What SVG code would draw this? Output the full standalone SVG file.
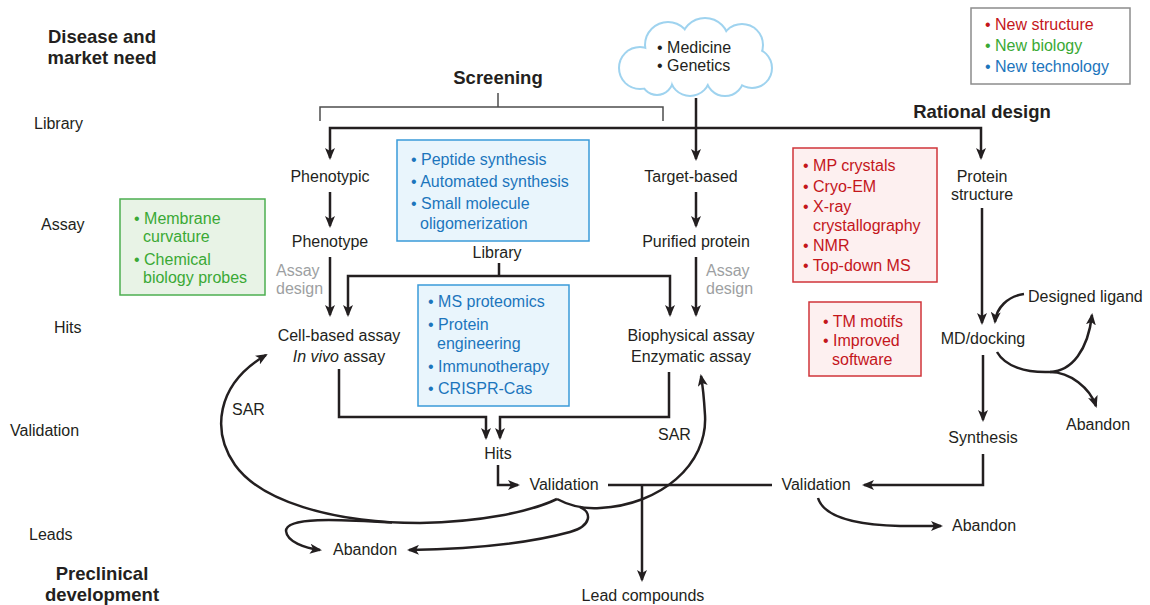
<svg xmlns="http://www.w3.org/2000/svg" width="1150" height="605" viewBox="0 0 1150 605">
<defs>
<marker id="ah" viewBox="0 0 12 10" refX="10" refY="5" markerWidth="12" markerHeight="10" markerUnits="userSpaceOnUse" orient="auto">
<path d="M0,0 L12,5 L0,10 L3,5 Z" fill="#231f20"/>
</marker>
<style>
text { font-family: "Liberation Sans", Arial, sans-serif; font-size: 16px; fill: #231f20; }
.b { font-weight: bold; font-size: 18.5px; }
.c { text-anchor: middle; }
.red { fill: #c4161c; }
.grn { fill: #3aa935; }
.blu { fill: #1c75bc; }
.gry { fill: #9d9fa2; }
.ln { fill: none; stroke: #231f20; stroke-width: 2.5; }
.ar { marker-end: url(#ah); }
.thin { fill: none; stroke: #4d4d4d; stroke-width: 1.5; }
.bxr { fill: #fdf0f0; stroke: #d0343a; stroke-width: 1.5; }
.bxb { fill: #e9f5fc; stroke: #3a9ad9; stroke-width: 1.5; }
.bxg { fill: #e8f3e6; stroke: #4caf50; stroke-width: 1.5; }
.bxk { fill: #ffffff; stroke: #8c8c8c; stroke-width: 1.5; }
.cl { fill: #ffffff; stroke: #9fd3ef; stroke-width: 4; }
.cf { fill: #ffffff; stroke: none; }
</style>
<g id="cloudShapes">
<circle cx="640" cy="68" r="20"/>
<circle cx="668" cy="45" r="22"/>
<circle cx="705" cy="42" r="23"/>
<circle cx="742" cy="45" r="20"/>
<circle cx="752" cy="68" r="19"/>
<circle cx="725" cy="77" r="18"/>
<circle cx="690" cy="76" r="19"/>
<circle cx="657" cy="79" r="15"/>
<ellipse cx="695" cy="60" rx="50" ry="24"/>
</g>
</defs>

<g id="stage-labels">
<text class="b c" x="102" y="43">Disease and</text>
<text class="b c" x="102" y="64">market need</text>
<text x="34" y="129">Library</text>
<text x="41" y="230">Assay</text>
<text x="54" y="333">Hits</text>
<text x="10" y="436">Validation</text>
<text x="29" y="540">Leads</text>
<text class="b c" x="102" y="580">Preclinical</text>
<text class="b c" x="102" y="601">development</text>
</g>

<g id="legend">
<rect class="bxk" x="971" y="8" width="159" height="76"/>
<text class="red" x="985" y="30">• New structure</text>
<text class="grn" x="985" y="51">• New biology</text>
<text class="blu" x="985" y="72">• New technology</text>
</g>

<g id="cloud">
<use href="#cloudShapes" class="cl"/>
<use href="#cloudShapes" class="cf"/>
<text x="657" y="53">• Medicine</text>
<text x="657" y="71">• Genetics</text>
</g>

<g id="screening"><text class="b c" x="498" y="84">Screening</text></g>
<g id="rational-design"><text class="b c" x="982" y="118">Rational design</text></g>

<g id="connectors">
<path class="thin" d="M320,121 V107 H663 V121"/>
<path class="thin" d="M498,93 V107"/>
<path class="ln ar" d="M500,128 H330 V158"/>
<path class="ln ar" d="M500,128 H981 V158"/>
<path class="ln ar" d="M696,98 V159"/>
<path class="ln ar" d="M330,192 V226"/>
<path class="ln ar" d="M330,257 V315"/>
<path class="ln" d="M499,263 V276"/>
<path class="ln ar" d="M499,276 H348 V315"/>
<path class="ln ar" d="M499,276 H670 V315"/>
<path class="ln ar" d="M696,192 V226"/>
<path class="ln ar" d="M696,257 V315"/>
<path class="ln ar" d="M339,369 V417 H486 V438"/>
<path class="ln ar" d="M669,372 V417 H500 V438"/>
<path class="ln ar" d="M498,465 V485 H518"/>
<path class="ln" d="M608,485 H772"/>
<path class="ln ar" d="M642,485 V580"/>
<path class="ln ar" d="M982,208 V323"/>
<path class="ln ar" d="M1024,294 C1008,296 996,308 995,322"/>
<path class="ln" d="M997,352 C1005,366 1025,373 1050,372"/>
<path class="ln ar" d="M1050,372 C1072,371 1088,350 1092,315"/>
<path class="ln ar" d="M1050,372 C1070,372 1090,388 1096,406"/>
<path class="ln ar" d="M983,355 V420"/>
<path class="ln ar" d="M983,454 V485 H864"/>
<path class="ln ar" d="M818,498 C824,518 860,525 900,526 L941,526"/>
<path class="ln ar" d="M557,499 C530,512 480,522 420,523 C330,523 260,500 235,465 C212,432 215,385 266,355"/>
<path class="ln ar" d="M557,499 C570,506 585,509 600,508 C660,505 708,465 705,415 C704,398 703,387 701,376"/>
<path class="ln ar" d="M580,507 C592,512 592,526 570,532 C530,543 470,549 409,550"/>
<path class="ln ar" d="M392,522.5 C335,519 286,517 286,531 C287,542 305,548 320,550"/>
</g>

<g id="phenotypic"><text class="c" x="330" y="182">Phenotypic</text></g>
<g id="phenotype"><text class="c" x="330" y="247">Phenotype</text></g>
<g id="assay-design-left">
<text class="gry" x="276" y="276">Assay</text>
<text class="gry" x="276" y="294">design</text>
</g>
<g id="target-based"><text class="c" x="691" y="182">Target-based</text></g>
<g id="purified-protein"><text class="c" x="696" y="247">Purified protein</text></g>
<g id="assay-design-right">
<text class="gry" x="706" y="276">Assay</text>
<text class="gry" x="706" y="294">design</text>
</g>
<g id="library"><text class="c" x="497" y="258">Library</text></g>

<g id="tech-box-1">
<rect class="bxb" x="397" y="140" width="192" height="101"/>
<text class="blu" x="411" y="165">• Peptide synthesis</text>
<text class="blu" x="411" y="187">• Automated synthesis</text>
<text class="blu" x="411" y="209">• Small molecule</text>
<text class="blu" x="420" y="229">oligomerization</text>
</g>

<g id="tech-box-2">
<rect class="bxb" x="418" y="285" width="151" height="121"/>
<text class="blu" x="428" y="307">• MS proteomics</text>
<text class="blu" x="428" y="330">• Protein</text>
<text class="blu" x="437" y="349">engineering</text>
<text class="blu" x="428" y="372">• Immunotherapy</text>
<text class="blu" x="428" y="394">• CRISPR-Cas</text>
</g>

<g id="biology-box">
<rect class="bxg" x="120" y="199" width="145" height="96"/>
<text class="grn" x="134" y="224">• Membrane</text>
<text class="grn" x="143" y="242">curvature</text>
<text class="grn" x="134" y="265">• Chemical</text>
<text class="grn" x="143" y="283">biology probes</text>
</g>

<g id="structure-box-1">
<rect class="bxr" x="793" y="148" width="144" height="134"/>
<text class="red" x="803" y="171">• MP crystals</text>
<text class="red" x="803" y="192">• Cryo-EM</text>
<text class="red" x="803" y="212">• X-ray</text>
<text class="red" x="813" y="231">crystallography</text>
<text class="red" x="803" y="251">• NMR</text>
<text class="red" x="803" y="271">• Top-down MS</text>
</g>

<g id="structure-box-2">
<rect class="bxr" x="809" y="302" width="112" height="74"/>
<text class="red" x="823" y="327">• TM motifs</text>
<text class="red" x="823" y="346">• Improved</text>
<text class="red" x="832" y="365">software</text>
</g>

<g id="cell-based-assay">
<text class="c" x="339" y="341">Cell-based assay</text>
<text class="c" x="339" y="362"><tspan font-style="italic">In vivo</tspan> assay</text>
</g>
<g id="biophysical-assay">
<text class="c" x="691" y="341">Biophysical assay</text>
<text class="c" x="691" y="362">Enzymatic assay</text>
</g>
<g id="hits"><text class="c" x="498" y="459">Hits</text></g>
<g id="validation-left"><text class="c" x="564" y="490">Validation</text></g>
<g id="validation-right"><text class="c" x="816" y="490">Validation</text></g>
<g id="lead-compounds"><text class="c" x="643" y="601">Lead compounds</text></g>
<g id="abandon-left"><text class="c" x="365" y="555">Abandon</text></g>
<g id="abandon-lower"><text class="c" x="984" y="531">Abandon</text></g>
<g id="abandon-upper"><text class="c" x="1098" y="430">Abandon</text></g>
<g id="sar-left"><text x="232" y="415">SAR</text></g>
<g id="sar-right"><text x="658" y="440">SAR</text></g>
<g id="protein-structure">
<text class="c" x="982" y="182">Protein</text>
<text class="c" x="982" y="200">structure</text>
</g>
<g id="md-docking"><text class="c" x="983" y="344">MD/docking</text></g>
<g id="designed-ligand"><text x="1028" y="302">Designed ligand</text></g>
<g id="synthesis"><text class="c" x="983" y="443">Synthesis</text></g>
</svg>
